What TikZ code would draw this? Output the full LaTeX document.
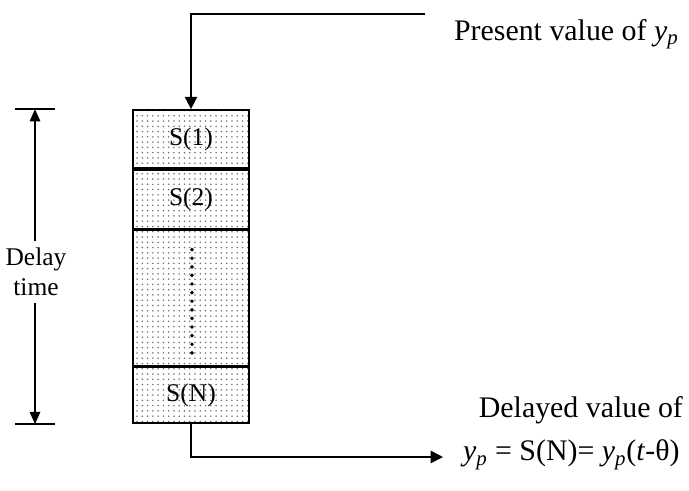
\documentclass[tikz,border=0pt]{standalone}
\usepackage{fontspec}
\setmainfont{Liberation Serif}
\usetikzlibrary{positioning, arrows.meta, patterns, calc}
\tikzset{
  % Storage cells
  cell/.style={
    draw, line width=1pt, rectangle,
    pattern=dots, pattern color=black!55,
    minimum width=2.32cm, inner sep=0pt
  },
  % Signal lines
  flow/.style={
    -{Triangle[length=7pt, width=7pt]}, line width=0.9pt
  },
  % Dimension arrows
  dimarrow/.style={
    -{Triangle[length=7pt, width=6pt]}, line width=0.9pt
  },
  tick/.style={line width=0.9pt},
  txt/.style={font=\fontsize{14.5}{17}\selectfont, inner sep=1pt},
  bigtxt/.style={font=\fontsize{17}{20}\selectfont, inner sep=1pt},
}
\newcommand{\yp}{\textit{y}\textsubscript{\textit{p}}}

\begin{document}
\begin{tikzpicture}[x=0.02cm, y=-0.02cm, node distance=0pt]
  \useasboundingbox (0,0) rectangle (689,490);

  %% -- Delay line cells --
  \node[cell, minimum height=1.16cm, txt] at (191,139) (s1) {S(1)};
  \node[cell, minimum height=1.18cm, txt, below=of s1] (s2) {S(2)};
  \node[cell, minimum height=2.70cm, below=of s2]      (smid) {};
  \node[cell, minimum height=1.12cm, txt, below=of smid] (sN) {S(N)};

  %% -- Dots in the middle cell --
  \foreach \k in {0,...,12}
    \fill ($(smid.north)+(1,20+8.6*\k)$) circle (1.1pt);

  %% -- Input --
  \coordinate (inlet) at (425,14);
  \draw[flow] (inlet) -| (s1.north);
  \node[bigtxt, anchor=west] (present) at (452,34) {Present value of \yp};

  %% -- Output --
  \coordinate (outlet) at (443,457);
  \draw[flow] (sN.south) |- (outlet);
  \node[bigtxt, anchor=east] (delayed) at (685,410) {Delayed value of};
  \node[bigtxt, anchor=west] (result) at (461,455)
    {\yp{} = S(N)= \yp(\textit{t}-θ)};

  %% -- Delay time dimension --
  \coordinate (dx) at (35,0);
  \coordinate (dtop) at (s1.north -| dx);
  \coordinate (dbot) at (sN.south -| dx);
  \draw[tick] ($(dtop)+(-20,0)$) -- ($(dtop)+(20,0)$);
  \draw[tick] ($(dbot)+(-20,0)$) -- ($(dbot)+(20,0)$);
  \node[txt, align=center] (delay) at (36,272) {Delay\\time};
  \draw[dimarrow] ([yshift=3pt]delay.north -| dx) -- (dtop);
  \draw[dimarrow] ([yshift=-3pt]delay.south -| dx) -- (dbot);

\end{tikzpicture}
\end{document}
